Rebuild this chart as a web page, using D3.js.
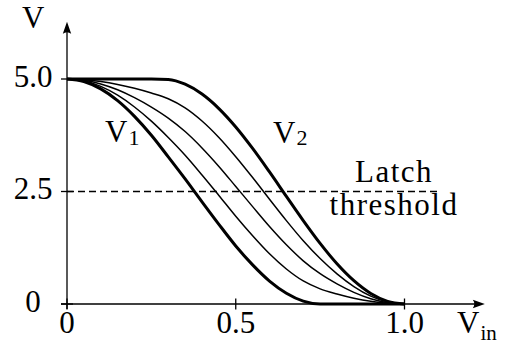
<!DOCTYPE html>
<html>
<head>
<meta charset="utf-8">
<script src="https://cdn.jsdelivr.net/npm/d3@7"></script>
<style>
  body { margin: 0; background: #fff; }
</style>
</head>
<body>
<svg id="chart" width="506" height="343"></svg>
<script>
// Input voltage samples
const vin = [0, 0.05, 0.10, 0.15, 0.20, 0.25, 0.30, 0.35, 0.40, 0.45, 0.50,
             0.55, 0.60, 0.65, 0.70, 0.75, 0.80, 0.85, 0.90, 0.95, 1.00];

// Bounding transfer curves
const v1 = [5.00, 4.945, 4.78, 4.52, 4.17, 3.75, 3.27, 2.78, 2.27, 1.77, 1.29,
            0.87, 0.51, 0.24, 0.065, 0, 0, 0, 0, 0, 0];
const v2 = [5.00, 5.00, 5.00, 5.00, 5.00, 5.00, 4.99, 4.884, 4.665, 4.343, 3.934,
            3.457, 2.934, 2.391, 1.853, 1.346, 0.893, 0.517, 0.234, 0.059, 0];

// Intermediate curves between V1 and V2
const mid1 = [5.00, 4.959, 4.835, 4.64, 4.378, 4.063, 3.70, 3.306, 2.868, 2.413, 1.951,
              1.517, 1.116, 0.778, 0.512, 0.337, 0.223, 0.129, 0.059, 0.015, 0];
const mid2 = [5.00, 4.97, 4.89, 4.76, 4.585, 4.375, 4.13, 3.832, 3.468, 3.057, 2.612,
              2.164, 1.722, 1.316, 0.959, 0.673, 0.447, 0.259, 0.117, 0.030, 0];
const mid3 = [5.00, 4.986, 4.945, 4.88, 4.793, 4.688, 4.56, 4.358, 4.066, 3.70, 3.273,
              2.81, 2.328, 1.853, 1.406, 1.010, 0.67, 0.388, 0.176, 0.044, 0];

const xTicks = [0, 0.5, 1.0];
const xTickLabels = ["0", "0.5", "1.0"];
const yTicks = [0, 2.5, 5.0];
const yTickLabels = ["0", "2.5", "5.0"];
const latchThreshold = 2.5;

const FONT = "'Liberation Serif'";
const svg = d3.select("#chart");

const x = d3.scaleLinear().domain([0, 1]).range([67, 404.5]);
const y = d3.scaleLinear().domain([0, 5]).range([304, 79]);

const axisXEnd = 1.238, axisYEnd = 6.27;
const axisW = 1.3;

// Axes lines
svg.append("line")
  .attr("x1", x(0) - 6).attr("x2", x(axisXEnd) - 6)
  .attr("y1", y(0)).attr("y2", y(0))
  .attr("stroke", "#000").attr("stroke-width", axisW);
svg.append("line")
  .attr("x1", x(0)).attr("x2", x(0))
  .attr("y1", y(0) + 5).attr("y2", y(axisYEnd) + 6)
  .attr("stroke", "#000").attr("stroke-width", axisW);

// Arrowheads
function arrow(tx, ty, dir) {
  const L = 12, W = 4.2, back = 3;
  let p;
  if (dir === "up") {
    p = `M${tx},${ty} L${tx + W},${ty + L} Q${tx},${ty + L - back} ${tx - W},${ty + L} Z`;
  } else {
    p = `M${tx},${ty} L${tx - L},${ty - W} Q${tx - L + back},${ty} ${tx - L},${ty + W} Z`;
  }
  svg.append("path").attr("d", p).attr("fill", "#000");
}
arrow(x(0), y(axisYEnd), "up");
arrow(x(axisXEnd), y(0), "right");

// Ticks crossing the axes
svg.append("g").selectAll("line").data(xTicks).join("line")
  .attr("x1", d => x(d)).attr("x2", d => x(d))
  .attr("y1", y(0) - 5.5).attr("y2", y(0) + 5.5)
  .attr("stroke", "#000").attr("stroke-width", axisW);
svg.append("g").selectAll("line").data(yTicks).join("line")
  .attr("x1", x(0) - 6).attr("x2", x(0) + 6)
  .attr("y1", d => y(d)).attr("y2", d => y(d))
  .attr("stroke", "#000").attr("stroke-width", axisW);

// Tick labels
const fs = 31;
svg.append("g").selectAll("text").data(xTicks).join("text")
  .attr("font-family", FONT)
  .attr("x", d => x(d)).attr("y", 333)
  .attr("text-anchor", "middle").attr("font-size", fs)
  .text((d, i) => xTickLabels[i]);
svg.append("g").selectAll("text").data(yTicks).join("text")
  .attr("font-family", FONT)
  .attr("x", 33).attr("y", d => y(d) + 7.5)
  .attr("text-anchor", "middle").attr("font-size", fs)
  .text((d, i) => yTickLabels[i]);

// Threshold line
svg.append("line")
  .attr("x1", x(0)).attr("x2", x(1.105))
  .attr("y1", y(latchThreshold)).attr("y2", y(latchThreshold))
  .attr("stroke", "#000").attr("stroke-width", 1.3)
  .attr("stroke-dasharray", "7,4");

// Curves
const line = d3.line()
  .x((d, i) => x(vin[i]))
  .y(d => y(d))
  .curve(d3.curveMonotoneX);

[mid1, mid2, mid3].forEach(s => {
  svg.append("path").attr("d", line(s))
    .attr("fill", "none").attr("stroke", "#000").attr("stroke-width", 1.5);
});
[v1, v2].forEach(s => {
  svg.append("path").attr("d", line(s))
    .attr("fill", "none").attr("stroke", "#000").attr("stroke-width", 3)
    .attr("stroke-linejoin", "round");
});

// Labels with subscripts
function subLabel(px, py, main, sub, size, subSize, drop) {
  const t = svg.append("text").attr("font-family", FONT)
    .attr("x", px).attr("y", py).attr("font-size", size);
  t.append("tspan").text(main);
  if (sub) t.append("tspan").attr("font-size", subSize).attr("dy", drop)
    .attr("dx", 1).text(sub);
}
subLabel(22, 28, "V", null, fs);
subLabel(105, 142, "V", "1", fs, 22, 3);
subLabel(273, 143, "V", "2", fs, 22, 2);
subLabel(457, 333, "V", "in", fs, 21, 7);

svg.append("text").attr("font-family", FONT).attr("x", 394).attr("y", 182)
  .attr("text-anchor", "middle").attr("font-size", fs)
  .attr("letter-spacing", 1.5).text("Latch");
svg.append("text").attr("font-family", FONT).attr("x", 394).attr("y", 215)
  .attr("text-anchor", "middle").attr("font-size", fs)
  .attr("letter-spacing", 1.5).text("threshold");
</script>
</body>
</html>
